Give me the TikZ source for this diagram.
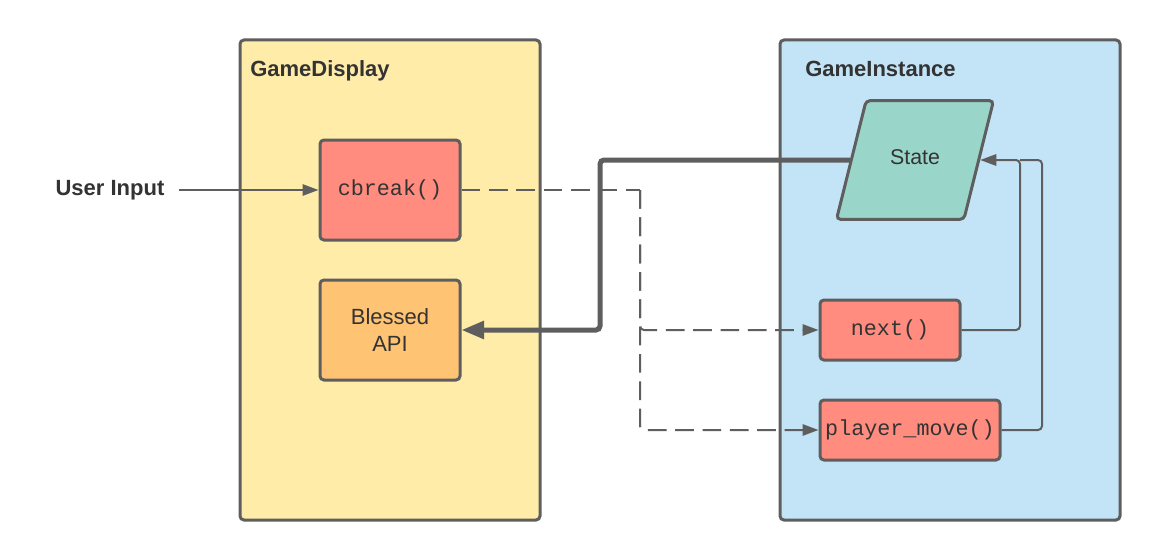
\documentclass[tikz,border=0pt]{standalone}
\usepackage{fontspec}
\setmainfont{Liberation Sans}
\setmonofont{Liberation Mono}
\usetikzlibrary{arrows.meta,shapes.geometric}
\definecolor{linegray}{HTML}{5E5E5E}
\definecolor{inkgray}{HTML}{333333}
\definecolor{displayfill}{HTML}{FFECA9}
\definecolor{instancefill}{HTML}{C3E4F6}
\definecolor{methodfill}{HTML}{FF8C7E}
\definecolor{apifill}{HTML}{FFC374}
\definecolor{statefill}{HTML}{9AD5CA}
\tikzset{
  panel/.style={draw=linegray, line width=2.25pt, rounded corners=3pt,
    minimum height=360pt, inner sep=0pt},
  paneltitle/.style={anchor=base west, inner sep=0pt, text=inkgray,
    font=\fontsize{16.5}{19}\selectfont\bfseries},
  inputtext/.style={inner xsep=11pt, text=inkgray,
    font=\fontsize{16.5}{19}\selectfont\bfseries},
  method/.style={draw=linegray, fill=methodfill, line width=2.25pt,
    rounded corners=3pt, minimum height=45pt, inner sep=0pt, text=inkgray,
    font=\fontsize{16.3}{19}\selectfont\ttfamily},
  apibox/.style={draw=linegray, fill=apifill, line width=2.25pt,
    rounded corners=3pt, minimum width=105pt, minimum height=75pt,
    align=center, text=inkgray, font=\fontsize{16.5}{20.5}\selectfont},
  statebox/.style={trapezium, trapezium left angle=76, trapezium right angle=104,
    draw=linegray, fill=statefill, line width=2.25pt, rounded corners=3pt,
    text height=11.6pt, text depth=5pt, inner xsep=18pt, inner ysep=36.2pt,
    text=inkgray, font=\fontsize{16}{19}\selectfont},
  flow/.style={draw=linegray, line width=1.5pt, rounded corners=3pt},
  call/.style={dash pattern=on 14pt off 6.5pt},
  tipthin/.style={-{Triangle[length=12pt,width=8.5pt]}},
  tipthick/.style={-{Triangle[length=17pt,width=13pt]}},
}
\begin{document}
\begin{tikzpicture}[x=0.75pt,y=-0.75pt]
  \useasboundingbox (0,0) rectangle (1160,560);
  \fill[white] (0,0) rectangle (1160,560);
  \node[panel, fill=displayfill, minimum width=225pt] (display) at (390,280) {};
  \node[panel, fill=instancefill, minimum width=255pt] (instance) at (950,280) {};
  \node[paneltitle] (displaytitle) at (250,77) {GameDisplay};
  \node[paneltitle] (instancetitle) at (805,77) {GameInstance};
  \node[inputtext] (input) at (110,190) {User Input};
  \node[method, minimum width=105pt, minimum height=75pt] (cbreak) at (390,190) {cbreak()};
  \node[apibox] (api) at (390,330) {Blessed\\API};
  \node[statebox] (state) at (915,160) {State};
  \node[method, minimum width=105pt] (next) at (890,330) {next()};
  \node[method, minimum width=135pt] (pmove) at (910,430) {player\_move()};
  \coordinate (fork) at (640,190);
  \coordinate (drop) at (600,330);
  \coordinate (back) at (1020,160);
  \coordinate (outer) at (1042,160);
  \begin{scope}[flow]
    \draw[tipthin] (input) -- (cbreak);
    \draw[call] (cbreak) -- (fork);
    \draw[call, tipthin] (fork) |- (next);
    \draw[call, tipthin] (fork) |- (pmove);
    \draw[line width=3.75pt, tipthick] (state.west) -| (drop) -- (api);
    \draw[tipthin] (next) -| (back) -- (state.east);
    \draw (pmove) -| (outer) -- (back);
  \end{scope}
\end{tikzpicture}
\end{document}
